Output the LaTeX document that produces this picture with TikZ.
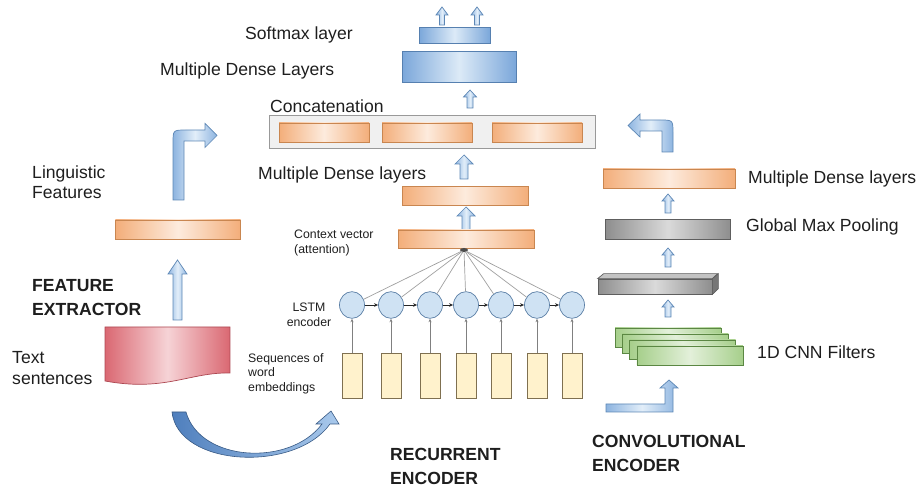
\documentclass[tikz,border=0pt]{standalone}
\usepackage{fontspec}
\setmainfont{Liberation Sans}
\usetikzlibrary{shapes.geometric,arrows.meta}

\definecolor{orEdge}{HTML}{F3AE7A}
\definecolor{orMid}{HTML}{FDEBDD}
\definecolor{orLine}{HTML}{C98650}
\definecolor{blEdge}{HTML}{7BA7DA}
\definecolor{blMid}{HTML}{DCEAF7}
\definecolor{blLine}{HTML}{5680B0}
\definecolor{arEdge}{HTML}{8DB4E0}
\definecolor{arMid}{HTML}{E2EEF9}
\definecolor{arLine}{HTML}{5D87B5}
\definecolor{crDark}{HTML}{4F7FBD}
\definecolor{crLight}{HTML}{A9C9EC}
\definecolor{gyEdge}{HTML}{8E8E8E}
\definecolor{gyMid}{HTML}{DADADA}
\definecolor{gyLine}{HTML}{5E5E5E}
\definecolor{grEdge}{HTML}{A6CF8B}
\definecolor{grMid}{HTML}{E3F0DA}
\definecolor{grLine}{HTML}{5B8743}
\definecolor{rdEdge}{HTML}{DA6872}
\definecolor{rdMid}{HTML}{F6D3D6}
\definecolor{rdLine}{HTML}{AD4852}
\definecolor{embFill}{HTML}{FFF2CC}
\definecolor{embLine}{HTML}{7F7050}
\definecolor{cellFill}{HTML}{CFE2F3}
\definecolor{cellLine}{HTML}{5B7FA6}
\definecolor{txt}{HTML}{1E1E1E}

\tikzset{
  bar/.style={draw, line width=0.6pt, inner sep=0pt, minimum height=0.57cm},
  orangebar/.style={bar, draw=orLine, left color=orEdge, right color=orEdge, middle color=orMid},
  bluebar/.style={bar, draw=blLine, left color=blEdge, right color=blEdge, middle color=blMid},
  graybar/.style={bar, draw=gyLine, left color=gyEdge, right color=gyEdge, middle color=gyMid},
  greenbar/.style={bar, draw=grLine, left color=grEdge, right color=grEdge, middle color=grMid, minimum width=3.18cm},
  blockarr/.style={draw=arLine, line width=0.6pt, left color=arEdge, right color=arEdge, middle color=arMid},
  embed/.style={draw=embLine, fill=embFill, line width=0.6pt, minimum width=0.6cm, minimum height=1.35cm, inner sep=0pt},
  cell/.style={ellipse, draw=cellLine, fill=cellFill, line width=0.6pt, minimum width=0.75cm, minimum height=0.8cm, inner sep=0pt},
  spoke/.style={draw=gray!75, line width=0.6pt},
  chain/.style={draw=black!85, line width=0.8pt, -{Stealth[length=3.5pt, width=3pt]}},
  embarrow/.style={draw=gray, line width=0.5pt, -{Stealth[length=3pt, width=2.5pt]}},
  lbl/.style={anchor=west, inner sep=0pt, text=txt, font=\fontsize{15}{17.5}\selectfont, align=left},
  small/.style={lbl, font=\fontsize{10.5}{12.4}\selectfont},
  heading/.style={lbl, font=\fontsize{15}{20}\selectfont\bfseries},
}

% x, tip y, bottom y, half shaft, half head, head length
\newcommand{\blockup}[6]{%
  \path[blockarr] (#1-#4,#3) -- (#1-#4,#2+#6) -- (#1-#5,#2+#6) -- (#1,#2)
    -- (#1+#5,#2+#6) -- (#1+#4,#2+#6) -- (#1+#4,#3) -- cycle;}

\begin{document}
\begin{tikzpicture}[x=0.03cm, y=-0.03cm]
    \useasboundingbox (0,0) rectangle (919,488);

    % Output layers
    \blockup{442}{7}{25}{2.5}{6}{8}
    \blockup{477}{7}{25}{2.5}{6}{8}
    \node[bluebar, minimum width=2.13cm, minimum height=0.47cm] (softmax) at (454.5,35.5) {};
    \node[bluebar, minimum width=3.42cm, minimum height=0.93cm] (dense) at (459,67) {};
    \blockup{470}{90}{108}{3}{6.5}{7}
    \node[lbl] (softmaxlbl) at (245,35) {Softmax layer};
    \node[lbl] (denselbl) at (160,71) {Multiple Dense Layers};

    % Concatenation
    \node[draw=gray!80, fill=black!6, line width=0.6pt, minimum width=9.78cm, minimum height=0.99cm, inner sep=0pt] (concat) at (432,131.5) {};
    \node[orangebar, minimum width=2.7cm] (cat1) at (324,132.5) {};
    \node[orangebar, minimum width=2.7cm] (cat2) at (427,132.5) {};
    \node[orangebar, minimum width=2.7cm] (cat3) at (537,132.5) {};
    \node[lbl] (concatlbl) at (270,106) {Concatenation};

    % -- recurrent branch
    \blockup{464}{155}{179}{4}{9}{9}
    \node[orangebar, minimum width=3.78cm] (mdense) at (465,196) {};
    \node[lbl] (mdenselbl) at (258,175) {Multiple Dense layers};
    \blockup{466}{207}{230}{4}{9}{9}
    \node[orangebar, minimum width=4.08cm, minimum height=0.54cm] (ctx) at (466,239) {};
    \node[small] (ctxlbl) at (294,243) {Context vector\\(attention)};
    \node[ellipse, fill=gray!60!black, minimum width=0.24cm, minimum height=0.12cm, inner sep=0pt] (hub) at (464,250) {};

    \foreach \x [count=\i] in {352,391,430,466,501,537,572} {
        \node[cell] (h\i) at (\x,305) {};
        \node[embed] (e\i) at (\x,375.5) {};
        \draw[embarrow] (e\i) -- (h\i);
        \draw[spoke] (hub) -- (h\i);
    }
    \foreach \i [evaluate=\i as \j using int(\i+1)] in {1,...,6}
        \draw[chain] (h\i) -- (h\j);

    \node[small, align=center, anchor=center] (lstmlbl) at (309,315) {LSTM\\encoder};
    \node[small] (emblbl) at (248,373.5) {Sequences of\\word\\embeddings};
    \node[heading] (reclbl) at (390,466.5) {RECURRENT\\ENCODER};

    % crescent arrow to the embeddings
    \path[draw=crDark!70!black, line width=0.5pt, left color=crDark, right color=crLight]
        (172,412) .. controls (178,467) and (295,473) .. (330,424) -- (339,424) -- (331,411)
        -- (316,424) -- (322,424) .. controls (290,467) and (200,462) .. (186,412) -- cycle;

    % -- feature extractor
    \path[draw=rdLine, line width=0.6pt, left color=rdEdge, right color=rdEdge, middle color=rdMid]
        (105,327) -- (230,327) -- (230,373) .. controls (190,372) and (165,392) .. (105,381) -- cycle;
    \node[lbl] (textlbl) at (12,368) {Text\\sentences};
    \blockup{177.5}{260}{320}{4.5}{9.5}{14}
    \node[heading] (featlbl) at (32,297.5) {FEATURE\\EXTRACTOR};
    \node[orangebar, minimum width=3.75cm] (ling) at (178,229.5) {};
    \node[lbl] (linglbl) at (32,182) {Linguistic\\Features};
    \path[blockarr] (173,200) -- (173,143) .. controls (173,130) .. (186,130) -- (205,130)
        -- (205,123.5) -- (217,135.5) -- (205,147.5) -- (205,141) -- (184,141) -- (184,200) -- cycle;

    % -- convolutional branch
    \path[blockarr] (673,152) -- (673,133) .. controls (673,120) .. (660,120) -- (640,120)
        -- (640,114) -- (628,125.5) -- (640,137) -- (640,131) -- (662,131) -- (662,152) -- cycle;
    \node[orangebar, minimum width=3.96cm] (rdense) at (669,178.5) {};
    \node[lbl] (rdenselbl) at (748,179) {Multiple Dense layers};
    \blockup{668}{194}{213}{3}{6}{7}
    \node[graybar, minimum width=3.75cm, minimum height=0.6cm] (pool) at (668,229.5) {};
    \node[lbl] (poollbl) at (746,227) {Global Max Pooling};
    \blockup{668}{248}{267}{3}{6}{7}
    \node[graybar, minimum width=3.42cm, minimum height=0.45cm] (conv) at (655,286.5) {};
    \path[draw=gyLine, line width=0.6pt, fill=gyMid!70!gyEdge] (conv.north west) -- ++(6,-5) -- ++(114,0) -- (conv.north east) -- cycle;
    \path[draw=gyLine, line width=0.6pt, fill=gyLine!85] (conv.north east) -- ++(6,-5) -- ++(0,15) -- (conv.south east) -- cycle;
    \blockup{668}{300}{317}{3}{6}{7}
    \foreach \i in {0,...,3}
        \node[greenbar] (filt\i) at (668+7.3*\i,337.5+6*\i) {};
    \node[lbl] (filtlbl) at (757,352) {1D CNN Filters};
    \path[blockarr] (606,404) -- (665,404) -- (665,388) -- (660,388) -- (669,380) -- (678,388)
        -- (673,388) -- (673,412) -- (606,412) -- cycle;
    \node[heading] (convlbl) at (592,453.5) {CONVOLUTIONAL\\ENCODER};
\end{tikzpicture}
\end{document}
